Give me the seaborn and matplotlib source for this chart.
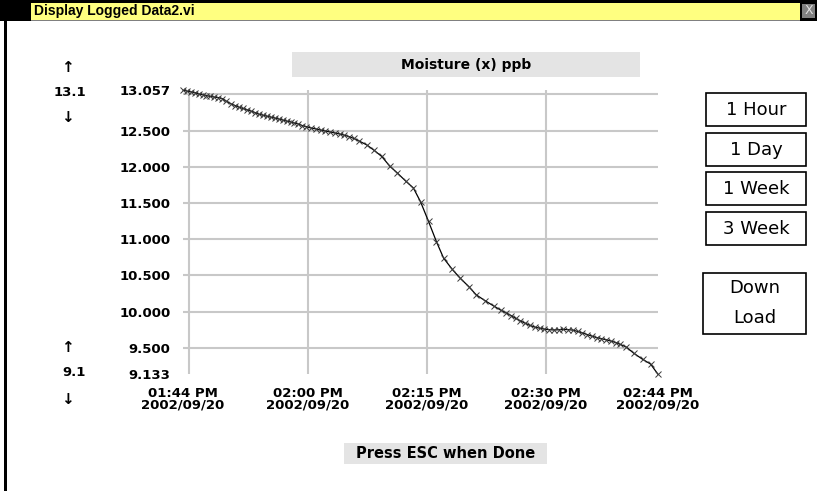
import matplotlib
matplotlib.use('Agg')
import matplotlib.pyplot as plt
import seaborn as sns
from matplotlib.patches import Rectangle

# minutes after 13:00 (2002/09/20) and logged moisture in ppb
minutes = [44.24, 44.7, 45.2, 45.7, 46.2, 46.7, 47.2, 47.7, 48.2, 48.7, 49.2, 49.7,
           50.3, 50.8, 51.3, 51.8, 52.3, 52.8, 53.3, 53.8, 54.3, 54.8, 55.3, 55.8,
           56.3, 56.8, 57.3, 57.8, 58.3, 58.8, 59.3, 59.8, 60.4, 61.0, 61.6, 62.2,
           62.8, 63.4, 64.0, 64.6, 65.2, 65.8, 66.4, 67.4, 68.3, 69.3, 70.3, 71.2,
           72.3, 73.3, 74.2, 75.2, 76.2, 77.1, 78.2, 79.2, 80.3, 81.2, 82.3, 83.4,
           84.3, 85.0, 85.6, 86.2, 86.8, 87.4, 88.0, 88.6, 89.2, 89.8, 90.4, 91.0,
           91.6, 92.2, 92.8, 93.4, 94.0, 94.6, 95.2, 95.8, 96.4, 97.0, 97.6, 98.2,
           98.8, 99.4, 100.1, 101.1, 102.2, 103.2, 104.14]
moisture = [13.057, 13.045, 13.035, 13.025, 13.005, 12.995, 12.983, 12.970, 12.962, 12.955, 12.940, 12.905,
            12.868, 12.845, 12.822, 12.805, 12.787, 12.768, 12.748, 12.726, 12.712, 12.698, 12.685, 12.672,
            12.659, 12.645, 12.630, 12.618, 12.603, 12.590, 12.567, 12.553, 12.535, 12.522, 12.506, 12.493,
            12.480, 12.466, 12.452, 12.435, 12.415, 12.390, 12.358, 12.302, 12.230, 12.142, 12.010, 11.920,
            11.805, 11.705, 11.515, 11.245, 10.965, 10.738, 10.582, 10.460, 10.342, 10.232, 10.152, 10.078,
            10.020, 9.980, 9.945, 9.905, 9.870, 9.838, 9.808, 9.785, 9.770, 9.757, 9.750, 9.745,
            9.748, 9.753, 9.750, 9.743, 9.725, 9.705, 9.682, 9.660, 9.640, 9.625, 9.610, 9.592,
            9.572, 9.545, 9.512, 9.423, 9.340, 9.275, 9.133]

y_ticks = [9.133, 9.5, 10.0, 10.5, 11.0, 11.5, 12.0, 12.5, 13.057]
y_labels = ['9.133', '9.500', '10.000', '10.500', '11.000', '11.500', '12.000', '12.500', '13.057']
y_grid = [9.5, 10.0, 10.5, 11.0, 11.5, 12.0, 12.5, 13.0]
x_ticks = [44.24, 60, 75, 90, 104.14]
x_labels = ['01:44 PM\n2002/09/20', '02:00 PM\n2002/09/20', '02:15 PM\n2002/09/20',
            '02:30 PM\n2002/09/20', '02:44 PM\n2002/09/20']
x_grid = [45, 60, 75, 90]
buttons = ['1 Hour', '1 Day', '1 Week', '3 Week']

sns.set_style('white')
plt.rcParams['font.family'] = ['DejaVu Sans']
plt.rcParams['text.color'] = 'black'

W, H = 817, 491
fig = plt.figure(figsize=(W / 100, H / 100), dpi=100)


# helpers in screen pixels (y from top)
def box(x0, y0, x1, y1, **kw):
    fig.add_artist(Rectangle((x0 / W, 1 - y1 / H), (x1 - x0) / W, (y1 - y0) / H,
                             transform=fig.transFigure, **kw))


def txt(x, y, s, **kw):
    kw.setdefault('ha', 'center')
    fig.text(x / W, 1 - y / H, s, va='center', **kw)


# window title bar
box(0, 0, W, 21, facecolor='black', edgecolor='none')
box(31, 2.5, 800, 20, facecolor='#ffff80', edgecolor='none')
box(31, 19.5, 800, 21, facecolor='#808080', edgecolor='none')
box(802, 4, 815, 18, facecolor='#808080', edgecolor='none')
txt(808.5, 11, 'X', color='#e0e0e0', fontsize=9)
txt(34, 11, 'Display Logged Data2.vi', ha='left', fontsize=10, fontweight='bold',
    family=['Liberation Sans Narrow', 'Liberation Sans'])
box(4, 21, 7, H, facecolor='black', edgecolor='none')

# chart
ax = fig.add_axes([183 / W, 1 - 374.3 / H, (658 - 183) / W, (374.3 - 90.2) / H])
sns.lineplot(x=minutes, y=moisture, ax=ax, color='black', lw=0.9, marker='x',
             markersize=5, markeredgewidth=0.7, markeredgecolor='#3a3a3a',
             errorbar=None, clip_on=False, zorder=3)
ax.set_xlim(x_ticks[0], x_ticks[-1])
ax.set_ylim(y_ticks[0], y_ticks[-1])
ax.xaxis.remove_overlapping_locs = False
ax.yaxis.remove_overlapping_locs = False
ax.set_xticks(x_ticks, x_labels)
ax.set_yticks(y_ticks, y_labels)
ax.set_xticks(x_grid, minor=True)
ax.set_yticks(y_grid, minor=True)
ax.grid(which='major', visible=False)
ax.grid(which='minor', color='#c8c8c8', lw=1.5)
ax.set_axisbelow(True)
ax.tick_params(which='minor', length=0)
ax.tick_params(which='major', length=6, width=1.2, color='#c0c0c0', pad=3,
               labelsize=9.5, labelcolor='black')
for lab in ax.get_xticklabels() + ax.get_yticklabels():
    lab.set_fontweight('bold')
for lab in ax.get_xticklabels():
    lab.set_linespacing(0.85)
ax.set_xlabel('')
ax.set_ylabel('')
for s in ax.spines.values():
    s.set_visible(False)

# plot title
box(292, 52, 640, 77, facecolor='#e4e4e4', edgecolor='none')
txt(466, 64.5, 'Moisture (x) ppb', fontsize=10, fontweight='bold')

# scale range arrows
txt(67, 68, '\u2191', fontsize=11, fontweight='bold')
txt(86, 92, '13.1', ha='right', fontsize=9.5, fontweight='bold')
txt(67, 117, '\u2193', fontsize=11, fontweight='bold')
txt(67, 347, '\u2191', fontsize=11, fontweight='bold')
txt(86, 372, '9.1', ha='right', fontsize=9.5, fontweight='bold')
txt(67, 400, '\u2193', fontsize=11, fontweight='bold')

# buttons
tops = [93, 133, 172, 212]
for name, t in zip(buttons, tops):
    box(706, t, 806, t + 33, facecolor='white', edgecolor='black', lw=1.2)
    txt(756, t + 17, name, fontsize=13)
box(703, 273, 806, 334, facecolor='white', edgecolor='black', lw=1.2)
txt(754.5, 288, 'Down', fontsize=13)
txt(754.5, 318, 'Load', fontsize=13)

# footer
box(344, 443, 547, 464, facecolor='#e4e4e4', edgecolor='none')
txt(445.5, 454, 'Press ESC when Done', fontsize=10.5, fontweight='bold')

fig.savefig('out.png', dpi=100)
